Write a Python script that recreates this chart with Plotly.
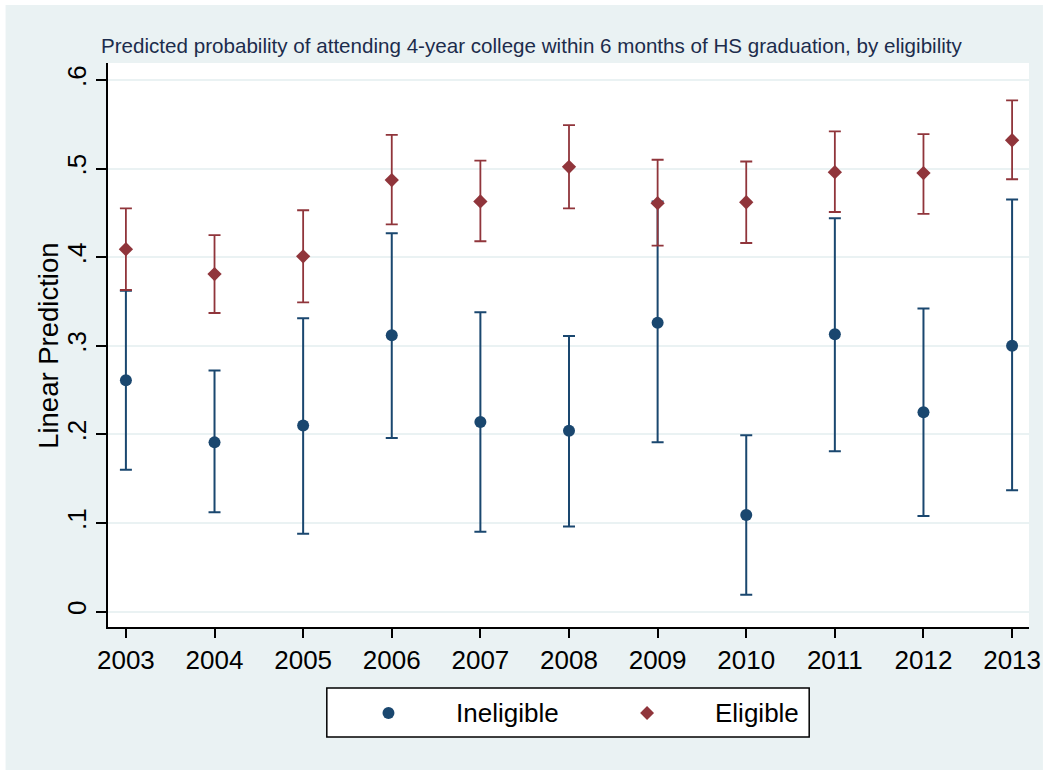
import plotly.graph_objects as go

years = [2003, 2004, 2005, 2006, 2007, 2008, 2009, 2010, 2011, 2012, 2013]

inel = [0.261, 0.191, 0.210, 0.312, 0.214, 0.204, 0.326, 0.109, 0.313, 0.225, 0.300]
inel_lo = [0.160, 0.112, 0.088, 0.196, 0.090, 0.096, 0.191, 0.019, 0.181, 0.108, 0.137]
inel_hi = [0.362, 0.272, 0.331, 0.427, 0.338, 0.311, 0.463, 0.199, 0.444, 0.342, 0.465]

elig = [0.409, 0.381, 0.401, 0.487, 0.463, 0.502, 0.461, 0.462, 0.496, 0.495, 0.532]
elig_lo = [0.363, 0.337, 0.349, 0.437, 0.418, 0.455, 0.413, 0.416, 0.451, 0.449, 0.488]
elig_hi = [0.455, 0.425, 0.453, 0.538, 0.509, 0.549, 0.510, 0.508, 0.542, 0.539, 0.577]

y_ticks = [0, 0.1, 0.2, 0.3, 0.4, 0.5, 0.6]
y_ticktext = ["0", ".1", ".2", ".3", ".4", ".5", ".6"]

title_text = "Predicted probability of attending 4-year college within 6 months of HS graduation, by eligibility"
y_title = "Linear Prediction"
legend_names = ["Ineligible", "Eligible"]

NAVY = "#1A476F"
MAROON = "#90353B"
BG = "#EAF2F3"
FONT = "Liberation Sans, Arial, sans-serif"

W, H = 1053, 771
L, R, T, B = 108, 1034, 63, 627  # plot area in px
PW, PH = R - L, B - T


def px(x):
    return (x - L) / PW


def py(y):
    return (B - y) / PH


fig = go.Figure()

fig.add_trace(go.Scatter(
    x=years, y=inel, mode="markers", name=legend_names[0], showlegend=False,
    marker=dict(symbol="circle", size=12, color=NAVY),
    error_y=dict(type="data", symmetric=False,
                 array=[h - v for h, v in zip(inel_hi, inel)],
                 arrayminus=[v - l for v, l in zip(inel, inel_lo)],
                 color=NAVY, thickness=2, width=6),
))
fig.add_trace(go.Scatter(
    x=years, y=elig, mode="markers", name=legend_names[1], showlegend=False,
    marker=dict(symbol="diamond", size=11, color=MAROON),
    error_y=dict(type="data", symmetric=False,
                 array=[h - v for h, v in zip(elig_hi, elig)],
                 arrayminus=[v - l for v, l in zip(elig, elig_lo)],
                 color=MAROON, thickness=1.8, width=6),
))

shapes = [
    # graph region (light blue-grey with thin white frame)
    dict(type="rect", xref="paper", yref="paper", layer="below",
         x0=px(5), x1=px(1048), y0=py(770), y1=py(5),
         fillcolor=BG, line=dict(width=0)),
    dict(type="rect", xref="paper", yref="paper", layer="below",
         x0=0, x1=1, y0=0, y1=1, fillcolor="white", line=dict(width=0)),
    # legend box
    dict(type="rect", xref="paper", yref="paper", layer="above",
         x0=px(328), x1=px(813), y0=py(737), y1=py(688),
         fillcolor="white", line=dict(color="black", width=1.5)),
    # legend symbols
    dict(type="circle", xref="paper", yref="paper", layer="above",
         x0=px(390 - 6), x1=px(390 + 6), y0=py(713 + 6), y1=py(713 - 6),
         fillcolor=NAVY, line=dict(width=0)),
    dict(type="path", xref="paper", yref="paper", layer="above",
         path=(f"M {px(650)},{py(713 - 7)} L {px(657)},{py(713)} "
               f"L {px(650)},{py(713 + 7)} L {px(643)},{py(713)} Z"),
         fillcolor=MAROON, line=dict(width=0)),
]

annotations = [
    dict(text=title_text, xref="paper", yref="paper", x=px(99), y=py(46),
         xanchor="left", yanchor="middle", showarrow=False,
         font=dict(family=FONT, size=20.6, color="#1C2C4C")),
    dict(text=y_title, xref="paper", yref="paper", x=px(48), y=py(345.5),
         xanchor="center", yanchor="middle", showarrow=False, textangle=-90,
         font=dict(family=FONT, size=27.5, color="black")),
    dict(text=legend_names[0], xref="paper", yref="paper", x=px(456), y=py(713),
         xanchor="left", yanchor="middle", showarrow=False,
         font=dict(family=FONT, size=26, color="black")),
    dict(text=legend_names[1], xref="paper", yref="paper", x=px(716), y=py(713),
         xanchor="left", yanchor="middle", showarrow=False,
         font=dict(family=FONT, size=26, color="black")),
]

fig.update_layout(
    width=W, height=H,
    margin=dict(l=L, r=W - R, t=T, b=H - B, pad=0),
    paper_bgcolor="white", plot_bgcolor="white",
    font=dict(family=FONT, color="black"),
    shapes=shapes, annotations=annotations,
    showlegend=False,
)

fig.update_xaxes(
    range=[2003 - 18 / 89.1, 2013 + 17 / 89.1],
    tickvals=years, ticktext=[str(y) for y in years],
    showgrid=False, zeroline=False,
    showline=True, linecolor="black", linewidth=1.5,
    ticks="outside", ticklen=9, tickwidth=1.5, tickcolor="black",
    tickfont=dict(family=FONT, size=26, color="black"),
)
fig.update_yaxes(
    range=[(611.6 - 627) / 886, (611.6 - 63) / 886],
    tickvals=y_ticks, ticktext=y_ticktext, tickangle=-90,
    showgrid=True, gridcolor=BG, gridwidth=2, zeroline=False,
    showline=True, linecolor="black", linewidth=1.5,
    ticks="outside", ticklen=10, tickwidth=1.5, tickcolor="black",
    tickfont=dict(family=FONT, size=26, color="black"),
)

fig.write_html("out.html",
               config={"displayModeBar": False},
               post_script="document.body.style.margin='0';document.body.style.overflow='hidden';")
